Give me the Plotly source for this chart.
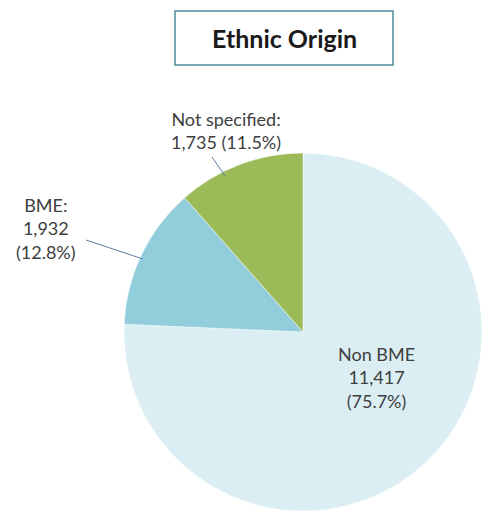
import plotly.graph_objects as go

labels = ["Non BME", "BME", "Not specified"]
values = [11417, 1932, 1735]
percents = ["75.7%", "12.8%", "11.5%"]
colors = ["#DAEEF3", "#92CDDC", "#9BBB59"]

W, H = 483, 513

def fmt(v):
    return f"{v:,}"

fig = go.Figure(go.Pie(
    labels=labels, values=values, sort=False, direction="clockwise", rotation=0,
    marker=dict(colors=colors, line=dict(color="white", width=0.5)),
    textinfo="none", hoverinfo="label+value+percent", showlegend=False,
    domain=dict(x=[124 / W, 482 / W], y=[1 - 511 / H, 1 - 153 / H]),
))

font = dict(family="Lato, Open Sans, sans-serif", size=18, color="#404040")

def px(x):
    return x / W

def py(y):
    return 1 - y / H

anns = [
    dict(text=f"{labels[0]}<br>{fmt(values[0])}<br>({percents[0]})", x=px(376), y=py(377)),
    dict(text=f"{labels[1]}:<br>{fmt(values[1])}<br>({percents[1]})", x=px(46), y=py(228)),
    dict(text=f"{labels[2]}:<br>{fmt(values[2])} ({percents[2]})", x=px(226), y=py(130)),
]
annotations = []
for a in anns:
    annotations.append(dict(xref="paper", yref="paper", showarrow=False, font=font,
                            align="center", xanchor="center", yanchor="middle", **a))

annotations.append(dict(xref="paper", yref="paper", x=px(284), y=py(38), text="<b>Ethnic Origin</b>",
                        showarrow=False, xanchor="center", yanchor="middle",
                        font=dict(family="Lato, Open Sans, sans-serif", size=25, color="#1a1a1a")))

shapes = [
    dict(type="rect", xref="paper", yref="paper", x0=px(175), x1=px(393), y0=py(65), y1=py(11),
         line=dict(color="#4E8C9C", width=1.5), fillcolor="rgba(0,0,0,0)"),
    dict(type="line", xref="paper", yref="paper", x0=px(86), y0=py(240), x1=px(143), y1=py(259),
         line=dict(color="#5A7FA8", width=1)),
    dict(type="line", xref="paper", yref="paper", x0=px(212), y0=py(157), x1=px(225), y1=py(176),
         line=dict(color="#5A7FA8", width=1)),
]

fig.update_layout(width=W, height=H, margin=dict(l=0, r=0, t=0, b=0),
                  paper_bgcolor="white", plot_bgcolor="white",
                  annotations=annotations, shapes=shapes)

fig.write_html("out.html")
